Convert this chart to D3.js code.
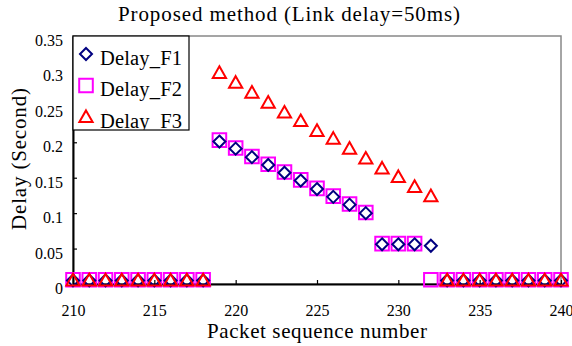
<!DOCTYPE html>
<html><head><meta charset="utf-8">
<script src="https://cdn.jsdelivr.net/npm/d3@7"></script>
<style>body{margin:0;background:#fff}svg{display:block}</style>
</head><body><svg id="c" width="572" height="346"></svg>
<script>
const packets = d3.range(210, 241);
const delayF1 = [0.005,0.005,0.005,0.005,0.005,0.005,0.005,0.005,0.005,
  0.201,0.191,0.179,0.168,0.157,0.146,0.134,0.123,0.112,0.100,
  0.056,0.056,0.056,0.054,
  0.005,0.005,0.005,0.005,0.005,0.005,0.005,0.005];
const delayF2 = [0.006,0.006,0.006,0.006,0.006,0.006,0.006,0.006,0.006,
  0.203,0.192,0.180,0.169,0.158,0.147,0.135,0.124,0.113,0.101,
  0.057,0.057,0.057,0.006,
  0.006,0.006,0.006,0.006,0.006,0.006,0.006,0.006];
const delayF3 = [0.005,0.005,0.005,0.005,0.005,0.005,0.005,0.005,0.005,
  0.298,0.284,0.270,0.256,0.242,0.230,0.216,0.205,0.191,0.177,
  0.163,0.151,0.137,0.124,
  0.005,0.005,0.005,0.005,0.005,0.005,0.005,0.005];
const xTicks = [210,215,220,225,230,235,240];
const yTicks = [0,0.05,0.1,0.15,0.2,0.25,0.3,0.35];
const seriesNames = ["Delay_F1","Delay_F2","Delay_F3"];
const seriesColors = ["#000080","#ff00ff","#ff0000"];

const svg = d3.select("#c");
const L=73, R=561, T=36, B=284;
const x = d3.scaleLinear().domain([210,240]).range([L,R]);
const y = d3.scaleLinear().domain([0,0.35]).range([B,T]);
const serif = "'Liberation Serif','Times New Roman',serif";

// frame
svg.append("rect").attr("x",L).attr("y",T).attr("width",R-L).attr("height",B-T)
  .attr("fill","none").attr("stroke","#888").attr("stroke-width",1.5);

const xAxis = svg.append("g").attr("transform",`translate(0,${B})`)
  .call(d3.axisBottom(x).tickValues(xTicks).tickSizeInner(-4).tickSizeOuter(0).tickFormat(d3.format("d")));
const yAxis = svg.append("g").attr("transform",`translate(${L},0)`)
  .call(d3.axisLeft(y).tickValues(yTicks).tickSizeInner(-4).tickSizeOuter(0).tickPadding(10).tickFormat(d=>d===0?"0":String(+d.toFixed(2))));
[xAxis,yAxis].forEach(a=>{
  a.attr("font-family",serif).attr("font-size",16);
  a.select(".domain").attr("stroke","#000").attr("stroke-width",2);
  a.selectAll(".tick line").attr("stroke","#000").attr("stroke-width",1.2);
  a.selectAll("text").attr("font-family",serif).attr("font-size",16).attr("fill","#000");
});
xAxis.selectAll("text").attr("y",31.5).attr("dy",0);
yAxis.selectAll("text").attr("y",9.5).attr("dy",0);

// markers
const sym = {
  diamond: s => `M0,${-s}L${s},0L0,${s}L${-s},0Z`,
  square: s => `M${-s},${-s}H${s}V${s}H${-s}Z`,
  triangle: s => `M0,${-s*1.05}L${s*1.05},${s*0.8}L${-s*1.05},${s*0.8}Z`
};
const kinds = ["diamond","square","triangle"];
const sizes = [6,6.8,6.3];
const data = [delayF1,delayF2,delayF3];
[1,0,2].forEach(i=>{
  svg.append("g").selectAll("path").data(packets).join("path")
    .attr("transform",(d,j)=>`translate(${x(d)},${y(data[i][j])})`)
    .attr("d",sym[kinds[i]](sizes[i]))
    .attr("fill","none").attr("stroke",seriesColors[i]).attr("stroke-width",2);
});

// legend
const defs = svg.append("defs");
defs.append("clipPath").attr("id","lg").append("rect").attr("x",73).attr("y",36).attr("width",116).attr("height",94);
const lg = svg.append("g");
lg.append("rect").attr("x",73).attr("y",36).attr("width",116).attr("height",94)
  .attr("fill","#fff").attr("stroke","#000").attr("stroke-width",1.2);
const lgc = lg.append("g").attr("clip-path","url(#lg)");
seriesNames.forEach((n,i)=>{
  const cy = 54 + i*31.5;
  lgc.append("path").attr("transform",`translate(86,${cy})`).attr("d",sym[kinds[i]](sizes[i]))
    .attr("fill","none").attr("stroke",seriesColors[i]).attr("stroke-width",2);
  lgc.append("text").attr("x",100).attr("y",cy+10.5).text(n)
    .attr("font-family",serif).attr("font-size",20.5).attr("fill","#000")
    .attr("textLength",82).attr("lengthAdjust","spacing");
});

// titles
svg.append("text").attr("x",289).attr("y",21).attr("text-anchor","middle")
  .attr("font-family",serif).attr("font-size",21).attr("textLength",342).attr("lengthAdjust","spacing")
  .text("Proposed method (Link delay=50ms)");
svg.append("text").attr("x",317).attr("y",337.5).attr("text-anchor","middle")
  .attr("font-family",serif).attr("font-size",21).attr("textLength",220).attr("lengthAdjust","spacing")
  .text("Packet sequence number");
svg.append("text").attr("transform","translate(26,159) rotate(-90)").attr("text-anchor","middle")
  .attr("font-family",serif).attr("font-size",21).attr("textLength",142).attr("lengthAdjust","spacing")
  .text("Delay (Second)");
</script></body></html>
